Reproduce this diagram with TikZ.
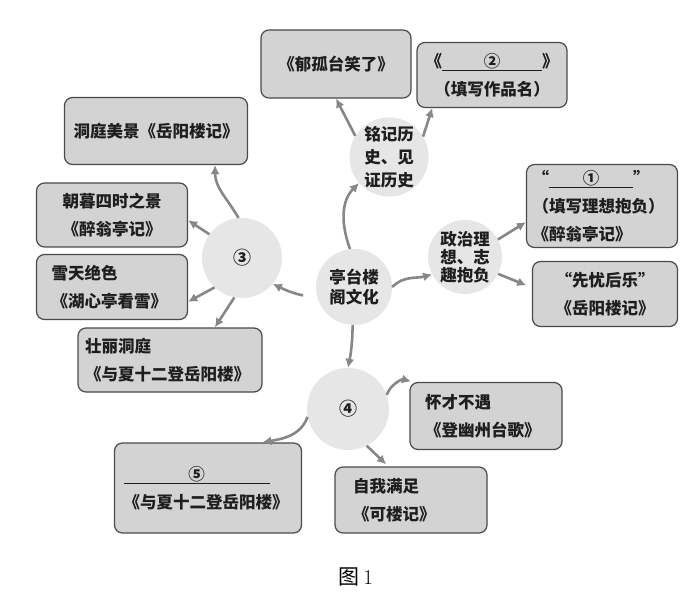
\documentclass[tikz,border=0pt]{standalone}
\usepackage{fontspec}
\usetikzlibrary{arrows.meta}
\newfontfamily\cjk{Noto Sans CJK SC}
\definecolor{cardgray}{HTML}{D3D3D3}
\definecolor{bubblegray}{HTML}{E6E6E6}
\definecolor{linkgray}{HTML}{878787}
\definecolor{edgegray}{HTML}{4A4A4A}
\definecolor{inkgray}{HTML}{1E1E1E}
\tikzset{
	bubble/.style={circle, fill=bubblegray, inner sep=0pt, minimum size=78pt, align=center, text=inkgray,
		font=\cjk\bfseries\fontsize{16.5}{20}\selectfont},
	card/.style={draw=edgegray, line width=1.2pt, fill=cardgray, rounded corners=8pt, inner xsep=8pt, inner ysep=0pt,
		text=inkgray, font=\cjk\bfseries\fontsize{16.5}{28}\selectfont},
	link/.style={draw=linkgray, line width=2.6pt, -{Latex[length=9pt,width=9pt]}}
}
\begin{document}
\begin{tikzpicture}[x=1pt,y=1pt]
		\useasboundingbox[fill=white] (0,0) rectangle (700,608);

		% bubbles
		\node[bubble, minimum size=76pt] (hub) at (354,321) {亭台楼\\阁文化};
		\node[bubble] (mingji) at (389,451) {铭记历\\[3pt]史、见\\[3pt]证历史};
		\node[bubble, minimum size=74pt] (zhengzhi) at (465,351) {政治理\\[-2pt]想、志\\[-2pt]趣抱负};
		\node[bubble, minimum size=80pt, font=\cjk\bfseries\fontsize{18}{20}\selectfont] (san) at (242,350) {③};
		\node[bubble, minimum size=82pt, font=\cjk\bfseries\fontsize{18}{20}\selectfont] (si) at (348,199) {④};

		% cards
		\node[card, text width=134pt, minimum height=68pt, align=center] (guta) at (336,544) {《郁孤台笑了》};
		\node[card, text width=134pt, minimum height=65pt, align=center] (zuopin) at (492,533)
			{《\underline{\makebox[100pt]{②}}》\\（填写作品名）};
		\node[card, text width=139pt, minimum height=83pt, inner xsep=6pt, align=left] (lixiang) at (602,402)
			{“\underline{\makebox[84pt]{①}}”\\（填写理想抱负）\\《醉翁亭记》};
		\node[card, text width=129pt, minimum height=65pt, align=center] (xianyou) at (605,314) {“先忧后乐”\\《岳阳楼记》};
		\node[card, text width=171pt, minimum height=67pt, inner xsep=6pt, align=center] (dongting) at (156,477) {洞庭美景《岳阳楼记》};
		\node[card, text width=135pt, minimum height=64pt, align=center] (zhaomu) at (112,393) {朝暮四时之景\\《醉翁亭记》};
		\node[card, text width=121pt, minimum height=65pt, inner xsep=15pt, align=left] (xuetian) at (112,321) {雪天绝色\\《湖心亭看雪》};
		\node[card, text width=170pt, minimum height=64pt, inner xsep=7pt, align=left] (zhuangli) at (170,248) {壮丽洞庭\\《与夏十二登岳阳楼》};
		\node[card, text width=122pt, minimum height=67pt, inner xsep=15pt, align=left] (huaicai) at (486,192) {怀才不遇\\《登幽州台歌》};
		\node[card, text width=169pt, minimum height=90pt, inner xsep=9pt, align=left] (wuhao) at (208,120)
			{\underline{\makebox[146pt]{⑤}}\\《与夏十二登岳阳楼》};
		\node[card, text width=116pt, minimum height=66pt, inner xsep=18pt, align=left] (ziwo) at (411,108) {自我满足\\《可楼记》};

		\node[font=\cjk\fontsize{21}{24}\selectfont] (caption) at (356,31) {图\,\rmfamily 1};

		% links
		\draw[link] (hub.96) to[out=110,in=225] (mingji.221);
		\draw[link] (mingji.148) -- (guta.south);
		\draw[link] (mingji.31) -- (zuopin.209);
		\draw[link] (hub.0) to[out=45,in=195] (zhengzhi.208);
		\draw[link] (zhengzhi.28) -- (lixiang.192);
		\draw[link, shorten >=6pt] (zhengzhi.-27) -- (xianyou.175);
		\draw[link, shorten <=14pt] (hub.195) to[bend left=10] (san.-40);
		\draw[link] (hub.-92) to[bend left=5] (si.north);
		\draw[link] (san.95) to[out=120,in=-90] (dongting.-30);
		\draw[link] (san.144) -- (zhaomu.-4);
		\draw[link] (san.227) -- (xuetian.-11);
		\draw[link] (san.259) -- (zhuangli.36);
		\draw[link, shorten >=2pt] (si.20) to[out=70,in=165] (huaicai.155);
		\draw[link] (si.191) to[out=250,in=10] (wuhao.40);
		\draw[link, shorten >=3pt] (si.-63) -- (ziwo.124);
\end{tikzpicture}
\end{document}
